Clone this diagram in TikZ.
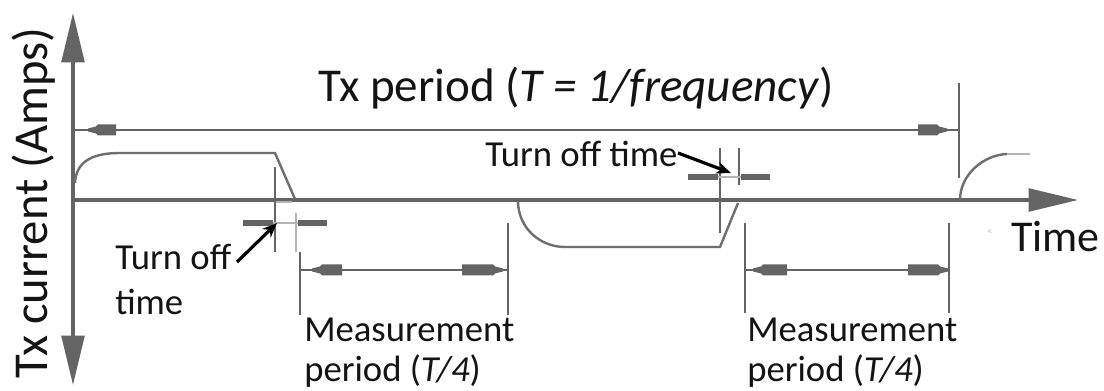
\documentclass[tikz,border=0pt]{standalone}
\usepackage{fontspec}
\setmainfont{Carlito}
\usetikzlibrary{arrows.meta}
\definecolor{dgray}{RGB}{100,100,100}
\definecolor{lgray}{RGB}{180,180,180}
\definecolor{wgray}{RGB}{110,110,110}
\definecolor{txt}{RGB}{20,20,20}
% dimension-line mark: tip x, y, direction, length
\newcommand\dmark[4]{\fill[dgray] (#1,#2) -- ++(0,-1.5) -- ++({#3*8},-2) -- ++({#3*2},-2) -- ++({#3*(#4-10)},0) -- ++(0,11) -- ++({-#3*(#4-10)},0) -- ++({-#3*2},-2) -- ++({-#3*8},-2) -- cycle;}
\tikzset{
  bigtxt/.style={font=\fontsize{35.3}{40}\selectfont, text=txt, inner sep=0pt},
  midtxt/.style={font=\fontsize{27.5}{30}\selectfont, text=txt, inner sep=0pt},
  axis/.style={draw=dgray, line width=2.6pt, {Triangle[length=37pt,width=17pt]}-{Triangle[length=37pt,width=17pt]}},
  axisr/.style={draw=dgray, line width=2.6pt, -{Triangle[length=37pt,width=17pt]}},
  dimline/.style={draw=dgray, line width=2.2pt},
  wave/.style={draw=wgray, line width=1.8pt},
  thinv/.style={draw=dgray, line width=2pt},
  lightv/.style={draw=lgray, line width=2pt},
  bar/.style={draw=dgray, line width=4pt},
  pointer/.style={draw=black, line width=2.4pt, -{Stealth[length=11pt,width=9pt]}}
}
\begin{document}
\begin{tikzpicture}[x=0.75pt,y=-0.75pt]
\useasboundingbox (0,0) rectangle (1104,391);
\fill[white] (0,0) rectangle (1104,391);

% coordinates
\coordinate (ytop) at (73,13);
\coordinate (ybot) at (73,385);
\coordinate (xorg) at (73,200);
\coordinate (xend) at (1078,200);
\coordinate (pL) at (73,130);
\coordinate (pR) at (959,130);

% axes
\draw[axis] (ybot) -- (ytop);
\draw[axisr] (xorg) -- (xend);

% Tx period dimension
\draw[dimline] (pL) -- (pR);
\draw[dimline] (959,83) -- (959,178);
\dmark{88}{130}{1}{28}
\dmark{947}{130}{-1}{29}

% waveform
\draw[wave] (75,183) .. controls (76,160) and (95,153) .. (120,153) -- (275,153) -- (295,199);
\draw[wave] (518,201) .. controls (518,228) and (540,247) .. (565,247) -- (720,247) -- (738,203);
\draw[wave] (960,200) .. controls (960,175) and (983,155) .. (1007,154);
\draw[draw=lgray, line width=1.8pt] (1007,154) -- (1030,154);

% left turn-off marker
\draw[thinv] (275,167) -- (275,252);
\draw[lightv] (296,213) -- (296,252);
\draw[bar] (243,223) -- (273,223);
\draw[bar] (298,223) -- (327,223);
\draw[draw=lgray, line width=1.4pt] (273,223) -- (298,223);
\draw[draw=lgray, line width=1.4pt] (276,202) -- (292,202);

% middle turn-off marker
\draw[thinv] (720,148) -- (720,233);
\draw[thinv] (739,148) -- (739,185);
\draw[bar] (688,177) -- (718,177);
\draw[bar] (741,177) -- (770,177);
\draw[draw=lgray, line width=1.4pt] (718,177) -- (741,177);

% measurement period 1
\draw[dimline] (300,252) -- (300,315);
\draw[dimline] (508,223) -- (508,315);
\draw[dimline] (300,270) -- (508,270);
\dmark{312}{270}{1}{30}
\dmark{503}{270}{-1}{41}

% measurement period 2
\draw[dimline] (745,223) -- (745,313);
\draw[dimline] (949,223) -- (949,313);
\draw[dimline] (745,270) -- (949,270);
\dmark{753}{270}{1}{34}
\dmark{948}{270}{-1}{40}

% texts
\node[bigtxt, anchor=base west] (title) at (318,102) {Tx period (\textit{T = 1/frequency})};
\node[bigtxt, font=\fontsize{33}{36}\selectfont, anchor=base west] (time) at (1011,252) {Time};
\node[bigtxt, font=\fontsize{36.5}{40}\selectfont, rotate=90, anchor=base] (ylab) at (47,203) {Tx current (Amps)};
\node[midtxt, anchor=base west] (tofa) at (115,270) {Turn off};
\node[midtxt, anchor=base west] (tofb) at (115,315) {time};
\node[midtxt, anchor=base west] (tofm) at (485,167) {Turn off time};
\node[midtxt, anchor=base west] (ma) at (304,342) {Measurement};
\node[midtxt, anchor=base west] (mb) at (304,382) {period (\textit{T/4})};
\node[midtxt, anchor=base west] (mc) at (747,342) {Measurement};
\node[midtxt, anchor=base west] (md) at (747,382) {period (\textit{T/4})};
\node[font=\fontsize{7}{7}\selectfont, text=lgray, inner sep=0pt] (art) at (990,232) {<};

% pointers
\coordinate (a1s) at (237,262);
\coordinate (a1e) at (277,223);
\coordinate (a2s) at (678,153);
\coordinate (a2e) at (731,173);
\draw[pointer] (a1s) -- (a1e);
\draw[pointer] (a2s) -- (a2e);
\end{tikzpicture}
\end{document}
